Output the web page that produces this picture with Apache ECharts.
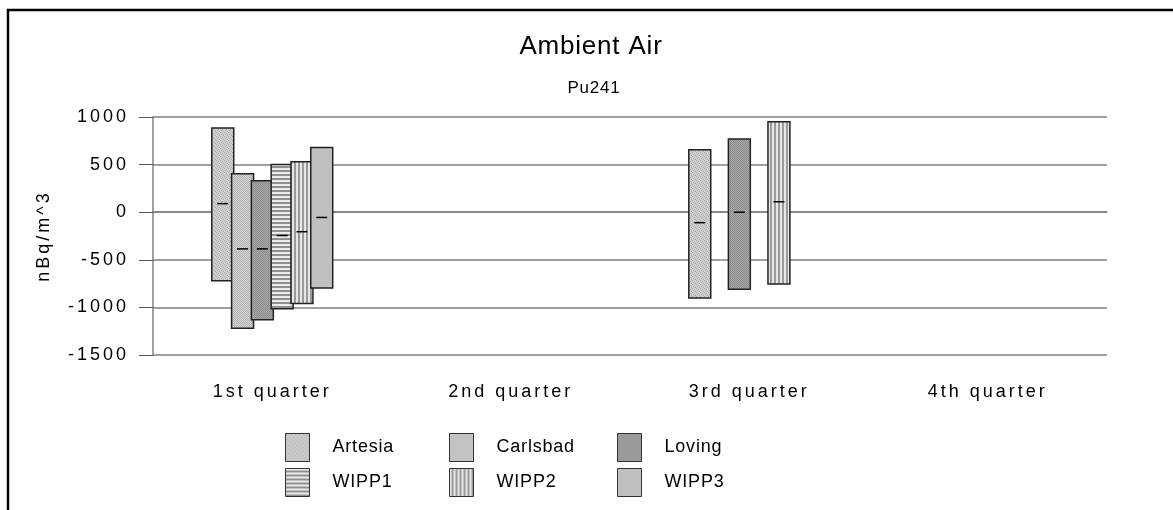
<!DOCTYPE html>
<html>
<head>
<meta charset="utf-8">
<script src="https://cdn.jsdelivr.net/npm/echarts@6/dist/echarts.min.js"></script>
<style>
  html, body { margin: 0; padding: 0; background: #fff; }
  #main { width: 1173px; height: 510px; }
</style>
</head>
<body>
<div id="main"></div>
<script>
// quarters on the x axis
const quarters = ['1st quarter', '2nd quarter', '3rd quarter', '4th quarter'];
const stations = ['Artesia', 'Carlsbad', 'Loving', 'WIPP1', 'WIPP2', 'WIPP3'];

// per station: low end, high end and the mean mark, one value per quarter (null = no sample)
const lowValues = [
  [-720, null, -900, null],
  [-1220, null, null, null],
  [-1130, null, -810, null],
  [-1015, null, null, null],
  [-960, null, -755, null],
  [-795, null, null, null]
];
const highValues = [
  [885, null, 655, null],
  [405, null, null, null],
  [330, null, 770, null],
  [500, null, null, null],
  [530, null, 950, null],
  [680, null, null, null]
];
const meanValues = [
  [90, null, -110, null],
  [-385, null, null, null],
  [-385, null, 0, null],
  [-245, null, null, null],
  [-205, null, 110, null],
  [-55, null, null, null]
];

// little canvas tiles to mimic the old hatch fills
function tile(size, draw) {
  const c = document.createElement('canvas');
  c.width = size; c.height = size;
  draw(c.getContext('2d'));
  return { image: c, repeat: 'repeat' };
}
const fills = [
  tile(4, ctx => { // Artesia: light grain
    ctx.fillStyle = '#d0d0d0'; ctx.fillRect(0, 0, 4, 4);
    ctx.fillStyle = '#a8a8a8';
    ctx.fillRect(0, 0, 1, 1); ctx.fillRect(2, 1, 1, 1); ctx.fillRect(1, 2, 1, 1); ctx.fillRect(3, 3, 1, 1);
  }),
  tile(2, ctx => { // Carlsbad: fine checker
    ctx.fillStyle = '#d6d6d6'; ctx.fillRect(0, 0, 2, 2);
    ctx.fillStyle = '#b0b0b0'; ctx.fillRect(0, 0, 1, 1); ctx.fillRect(1, 1, 1, 1);
  }),
  tile(2, ctx => { // Loving: darker checker
    ctx.fillStyle = '#a8a8a8'; ctx.fillRect(0, 0, 2, 2);
    ctx.fillStyle = '#8c8c8c'; ctx.fillRect(0, 0, 1, 1); ctx.fillRect(1, 1, 1, 1);
  }),
  tile(4, ctx => { // WIPP1: horizontal stripes
    ctx.fillStyle = '#8f8f8f'; ctx.fillRect(0, 0, 4, 4);
    ctx.fillStyle = '#ececec'; ctx.fillRect(0, 0, 4, 2);
  }),
  tile(4, ctx => { // WIPP2: vertical stripes
    ctx.fillStyle = '#9a9a9a'; ctx.fillRect(0, 0, 4, 4);
    ctx.fillStyle = '#e6e6e6'; ctx.fillRect(0, 0, 2, 4);
  }),
  '#c0c0c0' // WIPP3: plain
];

const chart = echarts.init(document.getElementById('main'));

// the old chart prints its text widely spaced; give each canvas layer some letter spacing
const painter = chart.getZr().painter;
if (painter && painter.getLayer) {
  painter.getLayer(0).ctx.letterSpacing = '3px';
  painter.getLayer(1).ctx.letterSpacing = '0.8px';
}

const series = stations.map((name, si) => {
  const data = [];
  quarters.forEach((q, qi) => {
    if (lowValues[si][qi] != null) {
      data.push([qi, lowValues[si][qi], highValues[si][qi], meanValues[si][qi]]);
    }
  });
  return {
    name: name,
    type: 'custom',
    itemStyle: { color: fills[si] },
    encode: { x: 0, y: [1, 2] },
    data: data,
    renderItem: function (params, api) {
      const band = api.size([1, 0])[0];
      const w = band * 0.092;
      const off = (si - 2.5) * band * 0.083;
      const top = api.coord([api.value(0), api.value(2)]);
      const bot = api.coord([api.value(0), api.value(1)]);
      const mid = api.coord([api.value(0), api.value(3)]);
      const cx = top[0] + off;
      return {
        type: 'group',
        children: [
          {
            type: 'rect',
            shape: { x: cx - w / 2, y: top[1], width: w, height: bot[1] - top[1] },
            style: { fill: fills[si], stroke: '#222', lineWidth: 1.5 }
          },
          {
            type: 'line',
            shape: { x1: cx - 5.5, y1: mid[1], x2: cx + 5.5, y2: mid[1] },
            style: { stroke: '#000', lineWidth: 1.5 }
          }
        ]
      };
    }
  };
});

// legend laid out as a 3 x 2 block, one component per entry
const legendCols = [285, 449, 617];
const legendRows = [433, 468];
const legends = stations.map((name, si) => ({
  zlevel: 1,
  left: legendCols[si % 3],
  top: legendRows[Math.floor(si / 3)],
  padding: 0,
  icon: 'rect',
  itemWidth: 24,
  itemHeight: 28,
  selectedMode: false,
  textStyle: { fontFamily: 'Liberation Sans', fontSize: 18, color: '#000', padding: [0, 0, 0, 18] },
  data: [{ name: name, itemStyle: { color: fills[si], borderColor: '#333', borderWidth: 1 } }]
}));

const axisFont = { fontFamily: 'Liberation Sans', fontSize: 18, color: '#000' };

chart.setOption({
  backgroundColor: '#fff',
  animation: false,
  title: [
    { zlevel: 1, text: 'Ambient Air', left: 591, textAlign: 'center', top: 34, padding: 0,
      textStyle: { fontFamily: 'Liberation Sans', fontSize: 26, fontWeight: 'normal', color: '#000' } },
    { zlevel: 1, text: 'Pu241', left: 594, textAlign: 'center', top: 80, padding: 0,
      textStyle: { fontFamily: 'Liberation Sans', fontSize: 17, fontWeight: 'normal', color: '#000' } }
  ],
  legend: legends,
  grid: { left: 153, right: 66, top: 117, bottom: 155 },
  xAxis: {
    type: 'category',
    data: quarters,
    boundaryGap: true,
    axisLine: { lineStyle: { color: '#808080', width: 1.5 } },
    axisTick: { alignWithLabel: true, length: 14, lineStyle: { color: '#555', width: 1 } },
    axisLabel: Object.assign({ margin: 28 }, axisFont)
  },
  yAxis: {
    type: 'value',
    min: -1500,
    max: 1000,
    interval: 500,
    name: 'nBq/m^3',
    nameLocation: 'middle',
    nameRotate: 90,
    nameGap: 100,
    nameTextStyle: axisFont,
    axisLine: { show: true, lineStyle: { color: '#808080', width: 1.5 } },
    axisTick: { show: true, length: 14, lineStyle: { color: '#555', width: 1 } },
    axisLabel: Object.assign({ margin: 24, formatter: v => String(v) }, axisFont),
    splitLine: { lineStyle: { color: '#808080', width: 1.5 } }
  },
  graphic: [
    { type: 'polyline', shape: { points: [[8, 510], [8, 10], [1173, 10]] },
      style: { stroke: '#000', lineWidth: 2.5, fill: null } }
  ],
  series: series
});
</script>
</body>
</html>
